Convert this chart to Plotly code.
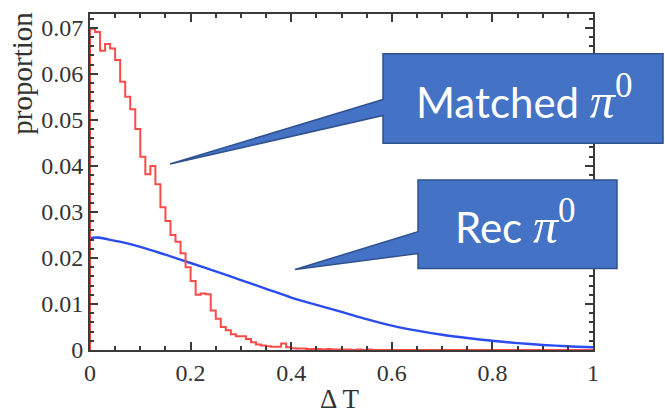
import numpy as np
import plotly.graph_objects as go

# ---------------- data ----------------
BIN_WIDTH = 0.01
matched_pi0 = [
    0.0698, 0.0691, 0.0650, 0.0665, 0.0655, 0.0630, 0.0583, 0.0550, 0.0523, 0.0480,
    0.0420, 0.0382, 0.0400, 0.0360, 0.0310, 0.0280, 0.0250, 0.0235, 0.0210, 0.0180,
    0.0150, 0.0120, 0.0123, 0.0121, 0.0086, 0.0068, 0.0050, 0.0043, 0.0034, 0.0030,
    0.0030, 0.0024, 0.0017, 0.0012, 0.0010, 0.0008, 0.0007, 0.0007, 0.0014, 0.0006,
    0.0004, 0.0003, 0.0003, 0.0002, 0.0002, 0.0002, 0.0001, 0.0002, 0.0001, 0.0001,
    0.0001, 0.0001, 0.0000, 0.0001, 0.0000, 0.0001, 0.0000, 0.0000, 0.0000, 0.0000,
    0.0000, 0.0000, 0.0000, 0.0000, 0.0000, 0.0000, 0.0000, 0.0000, 0.0000, 0.0000,
    0.0000, 0.0000, 0.0000, 0.0000, 0.0000, 0.0000, 0.0000, 0.0000, 0.0000, 0.0000,
    0.0000, 0.0000, 0.0000, 0.0000, 0.0000, 0.0000, 0.0000, 0.0000, 0.0000, 0.0000,
    0.0000, 0.0000, 0.0000, 0.0000, 0.0000, 0.0000, 0.0000, 0.0000, 0.0000, 0.0000,
]

rec_x = [0.00, 0.05, 0.10, 0.15, 0.20, 0.25, 0.30, 0.35, 0.40, 0.45, 0.50,
         0.55, 0.60, 0.65, 0.70, 0.75, 0.80, 0.85, 0.90, 0.95, 1.00]
rec_pi0 = [0.0241, 0.0237, 0.0224, 0.0207, 0.0189, 0.0171, 0.0152, 0.0133, 0.0114, 0.0098, 0.0083,
           0.0067, 0.0053, 0.0042, 0.0033, 0.0026, 0.0020, 0.0015, 0.0011, 0.0008, 0.0006]

x_ticks = [0, 0.2, 0.4, 0.6, 0.8, 1]
x_ticklabels = ["0", "0.2", "0.4", "0.6", "0.8", "1"]
y_ticks = [0, 0.01, 0.02, 0.03, 0.04, 0.05, 0.06, 0.07]
y_ticklabels = ["0", "0.01", "0.02", "0.03", "0.04", "0.05", "0.06", "0.07"]

# ---------------- layout geometry ----------------
W_FIG, H_FIG = 665, 413
L, R, T, B = 90, 72, 12, 63
PW = W_FIG - L - R
PH = H_FIG - T - B


def paper(xp, yp):
    return (xp - L) / PW, (H_FIG - B - yp) / PH


def path_from(points):
    pts = [paper(x, y) for x, y in points]
    return "M " + " L ".join(f"{x:.4f},{y:.4f}" for x, y in pts) + " Z"


# ---------------- traces ----------------
n = len(matched_pi0)
edges = np.arange(n + 1) * BIN_WIDTH
hx = [0.0] + list(edges)
hy = [0.0] + list(matched_pi0) + [matched_pi0[-1]]

fig = go.Figure()
fig.add_trace(go.Scatter(
    x=[0.0] + rec_x, y=[0.0] + rec_pi0, mode="lines",
    line=dict(color="#2b4cf0", width=2.4, shape="spline", smoothing=0.8),
    hoverinfo="skip", showlegend=False,
))
fig.add_trace(go.Scatter(
    x=hx, y=hy, mode="lines",
    line=dict(color="#ff4a4a", width=2, shape="hv"),
    hoverinfo="skip", showlegend=False,
))

tickfont = dict(family="Liberation Serif", size=24, color="#333333")
axis_common = dict(
    showgrid=False, zeroline=False, showline=True, linecolor="#3a3a3a", linewidth=2,
    mirror="allticks", ticks="inside", ticklen=8, tickwidth=1.5, tickcolor="#3a3a3a",
    tickfont=tickfont,
)
fig.update_xaxes(
    range=[0, 1], tickvals=x_ticks, ticktext=x_ticklabels,
    minor=dict(dtick=0.05, ticks="inside", ticklen=4, tickwidth=1.5, tickcolor="#3a3a3a"),
    **axis_common,
)
fig.update_yaxes(
    range=[0, 0.073], tickvals=y_ticks, ticktext=y_ticklabels,
    minor=dict(dtick=0.002, ticks="inside", ticklen=4, tickwidth=1.5, tickcolor="#3a3a3a"),
    **axis_common,
)

callout_fill = "#4472C4"
callout_line = "#2F528F"
shapes = [
    dict(type="path", xref="paper", yref="paper",
         path=path_from([(383, 52), (663, 52), (663, 142), (383, 142), (383, 114), (170, 163), (383, 98)]),
         fillcolor=callout_fill, line=dict(color=callout_line, width=1.5), layer="above"),
    dict(type="path", xref="paper", yref="paper",
         path=path_from([(418, 179), (617, 179), (617, 268), (418, 268), (418, 253), (295, 269), (418, 231)]),
         fillcolor=callout_fill, line=dict(color=callout_line, width=1.5), layer="above"),
]

pi_txt = ('<span style="font-family:Liberation Serif;font-size:50px"><i>π</i>'
          '<sup>0</sup></span>')
ann = []
mx, my = paper(524, 96)
ann.append(dict(xref="paper", yref="paper", x=mx, y=my, xanchor="center", yanchor="middle",
                text="Matched " + pi_txt, showarrow=False,
                font=dict(family="Lato", size=42, color="white")))
rx, ry = paper(515, 222)
ann.append(dict(xref="paper", yref="paper", x=rx, y=ry, xanchor="center", yanchor="middle",
                text="Rec " + pi_txt, showarrow=False,
                font=dict(family="Lato", size=42, color="white")))
px_, py_ = paper(22, 72)
ann.append(dict(xref="paper", yref="paper", x=px_, y=py_, xanchor="center", yanchor="middle",
                text="proportion", textangle=-90, showarrow=False,
                font=dict(family="Liberation Serif", size=29, color="#333333")))
dx, dy = paper(340, 399)
ann.append(dict(xref="paper", yref="paper", x=dx, y=dy, xanchor="center", yanchor="middle",
                text="Δ T", showarrow=False,
                font=dict(family="Liberation Serif", size=27, color="#333333")))

fig.update_layout(
    width=W_FIG, height=H_FIG,
    margin=dict(l=L, r=R, t=T, b=B),
    paper_bgcolor="white", plot_bgcolor="white",
    shapes=shapes, annotations=ann,
)

fig.write_html("out.html")
